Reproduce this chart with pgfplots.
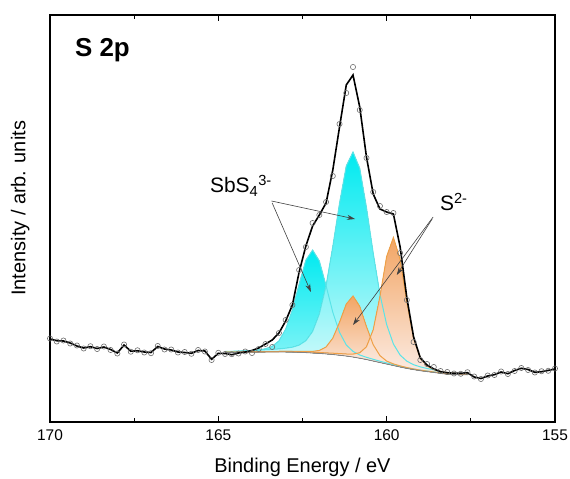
\documentclass[border=0pt]{standalone}
\usepackage{fontspec}
\setmainfont{Liberation Sans}
\usepackage{pgfplots}
\usepackage{pgfplotstable}
\pgfplotsset{compat=1.18}
\usepgfplotslibrary{fillbetween}
\usetikzlibrary{arrows.meta}

\definecolor{cyanT}{RGB}{0,234,240}
\definecolor{cyanB}{RGB}{215,250,251}
\definecolor{cyanL}{RGB}{90,228,232}
\definecolor{orT}{RGB}{242,165,100}
\definecolor{orB}{RGB}{252,236,228}
\definecolor{orL}{RGB}{240,160,70}
\definecolor{bgline}{RGB}{130,130,130}
\definecolor{circ}{RGB}{110,110,110}

% measured spectrum (x in eV, intensity in arb. units)
\pgfplotstableread{
x fit dat
170.0 83 83.5
169.8 81.3 80.5
169.6 81 81.5
169.4 79 78.5
169.2 76 76.5
169.0 74 73.5
168.8 75.3 75.8
168.6 73.5 73
168.4 75 75.5
168.2 72.5 72
168.0 69 68.5
167.8 77 77.5
167.6 70.8 70.3
167.4 71.2 71.7
167.2 70 69.5
167.0 69.5 68.8
166.8 75.5 76
166.6 73 72.5
166.4 72 72.5
166.2 70 69.5
166.0 69.5 70
165.8 68.7 68.2
165.6 71.5 72
165.4 71 70.5
165.2 62.7 62
165.0 68.7 69.2
164.8 68.5 68
164.6 67.3 67.8
164.4 69 68.5
164.2 70 70.5
164.0 71.5 69
163.8 74 73
163.6 78 78
163.4 82 75
163.2 89 89
163.0 101 102
162.8 117 117
162.6 150 152
162.4 176 175
162.2 196 199
162.0 207 207
161.8 219 220
161.6 252 246
161.4 295 298
161.2 337 329
161.0 347 355
160.8 315 312
160.6 265 264
160.4 228 230
160.2 213 216
160.0 210 210
159.8 208 209
159.6 175 169
159.4 124 122
159.2 85 80
159.0 64 62
158.8 57 58
158.6 53 55
158.4 50.3 51
158.2 49.3 50
158.0 48.7 48.5
157.8 48.7 48.2
157.6 49.3 49.8
157.4 45 45.5
157.2 43.5 43
157.0 46 46.5
156.8 47.3 47
156.6 50 50.5
156.4 48.3 48
156.2 51.5 51
156.0 53.7 54
155.8 52.5 52
155.6 49.7 49.5
155.4 50.3 50.8
155.2 51.6 51.2
155.0 53 53.5
}\spec

% fitted components (background + peak)
\pgfplotstableread{
x bg c1 c2 o1 o2
164.8 69.5 70.3 70.6 69.8 69.8
164.6 69.5 70.4 70.7 69.8 69.8
164.4 69.6 70.7 70.9 69.9 69.9
164.2 69.7 71.0 71.2 70.1 70.1
164.0 69.8 71.5 71.5 70.1 70.2
163.8 69.9 72.1 71.8 70.2 70.3
163.6 70.0 73.2 72.3 70.4 70.4
163.4 70.0 75.6 72.6 70.4 70.4
163.2 70.0 81.1 73.1 70.5 70.5
163.0 70.0 92.8 73.8 70.5 70.5
162.8 69.9 112.1 74.8 70.5 70.5
162.6 69.7 137.9 76.9 70.5 70.3
162.4 69.4 161.9 81.3 70.5 70.1
162.2 69.0 172.0 90.5 70.6 69.8
162.0 68.6 161.1 108.0 71.5 69.5
161.8 68.1 136.3 136.2 75.0 69.1
161.6 67.5 109.7 175.5 83.8 68.8
161.4 66.8 89.6 218.8 99.7 68.4
161.2 66.0 77.1 256.0 117.9 68.0
161.0 65.0 70.6 270.0 126.0 67.9
160.8 63.8 67.0 253.8 115.7 69.2
160.6 62.5 64.7 214.5 95.4 75.2
160.4 61.0 62.7 169.0 77.3 92.2
160.2 59.5 60.8 127.6 66.4 125.5
160.0 58.0 59.1 97.4 60.9 165.5
159.8 56.5 57.4 78.0 58.1 184.5
159.6 55.0 55.8 66.9 56.1 162.5
159.4 53.6 54.3 60.8 54.4 119.6
159.2 52.4 53.1 57.3 53.0 83.6
159.0 51.3 51.9 55.1 51.8 64.0
158.8 50.4 51.0 53.5 50.9 55.8
158.6 49.6 50.1 52.2 50.0 52.5
158.4 48.6 49.1 50.3 49.0 50.6
158.2 47.8 48.3 49.2 48.2 49.4
158.0 47.5 47.9 48.5 47.8 48.7
157.8 47.3 47.7 48.1 47.6 48.4
157.6 47.2 47.6 47.8 47.5 48.1
}\comp

\begin{document}
\begin{tikzpicture}
\begin{axis}[scale only axis,width=505bp,height=407bp,
x dir=reverse,xmin=155,xmax=170,ymin=0,ymax=407,
xtick={155,160,165,170},minor xtick={157.5,162.5,167.5},
ytick=\empty,xtick pos=both,xticklabel pos=lower,
tick align=inside,major tick length=6bp,minor tick length=4bp,
axis line style={line width=1.5bp},every tick/.style={black,line width=1.2bp},
/pgf/number format/assume math mode=true,
tick label style={font=\fontsize{15.5}{18}\selectfont},
xticklabel style={yshift=-4bp},
xlabel={Binding Energy / eV},ylabel={Intensity / arb. units},
every axis x label/.style={at={(axis description cs:0.5,0)},anchor=center,yshift=-45bp,font=\fontsize{20}{24}\selectfont},
every axis y label/.style={at={(axis description cs:-0.059,0.525)},anchor=center,rotate=90,font=\fontsize{20}{24}\selectfont},
clip=false]

\addplot[draw=none,name path=bg] table[x=x,y=bg]{\comp};
\addplot[draw=none,name path=c1] table[x=x,y=c1]{\comp};
\addplot[draw=none,name path=c2] table[x=x,y=c2]{\comp};
\addplot[draw=none,name path=o1] table[x=x,y=o1]{\comp};
\addplot[draw=none,name path=o2] table[x=x,y=o2]{\comp};

\addplot[shading=axis,top color=cyanT,bottom color=cyanB!70!cyanT] fill between[of=c1 and bg];
\addplot[shading=axis,top color=cyanT,bottom color=cyanB] fill between[of=c2 and bg];
\addplot[shading=axis,top color=orT,bottom color=orB] fill between[of=o1 and bg];
\addplot[shading=axis,top color=orT,bottom color=orB] fill between[of=o2 and bg];

\addplot[cyanL,line width=1bp] table[x=x,y=c1]{\comp};
\addplot[cyanL,line width=1bp] table[x=x,y=c2]{\comp};
\addplot[orL,line width=1bp] table[x=x,y=o1]{\comp};
\addplot[orL,line width=1bp] table[x=x,y=o2]{\comp};
\addplot[bgline,line width=0.8bp] table[x=x,y=bg]{\comp};

\addplot[only marks,mark=o,mark size=2.6bp,circ,mark options={line width=0.6bp}] table[x=x,y=dat]{\spec};
\addplot[black,line width=1.6bp] table[x=x,y=fit]{\spec};

\node[anchor=base west,font=\bfseries\fontsize{26}{30}\selectfont] at (axis cs:169.36,365) {S 2p};
\node[anchor=base west,font=\fontsize{21}{25}\selectfont,inner sep=0pt] at (axis cs:165.25,229) {SbS\textsubscript{4}\textsuperscript{3-}};
\node[anchor=base west,font=\fontsize{21}{25}\selectfont,inner sep=0pt] at (axis cs:158.42,211) {S\textsuperscript{2-}};

\draw[-{Stealth[length=8bp,width=5bp]},line width=0.6bp,black!75] (axis cs:163.42,221) -- (axis cs:160.94,203);
\draw[-{Stealth[length=8bp,width=5bp]},line width=0.6bp,black!75] (axis cs:163.40,219) -- (axis cs:162.25,130);
\draw[-{Stealth[length=8bp,width=5bp]},line width=0.6bp,black!75] (axis cs:158.62,205) -- (axis cs:161.0,97);
\draw[-{Stealth[length=8bp,width=5bp]},line width=0.6bp,black!75] (axis cs:158.65,203) -- (axis cs:159.7,147);
\end{axis}
\pgfresetboundingbox
\path[use as bounding box] ([shift={(-50bp,-57bp)}]current axis.south west) rectangle ([shift={(15bp,15bp)}]current axis.north east);
\end{tikzpicture}
\end{document}
